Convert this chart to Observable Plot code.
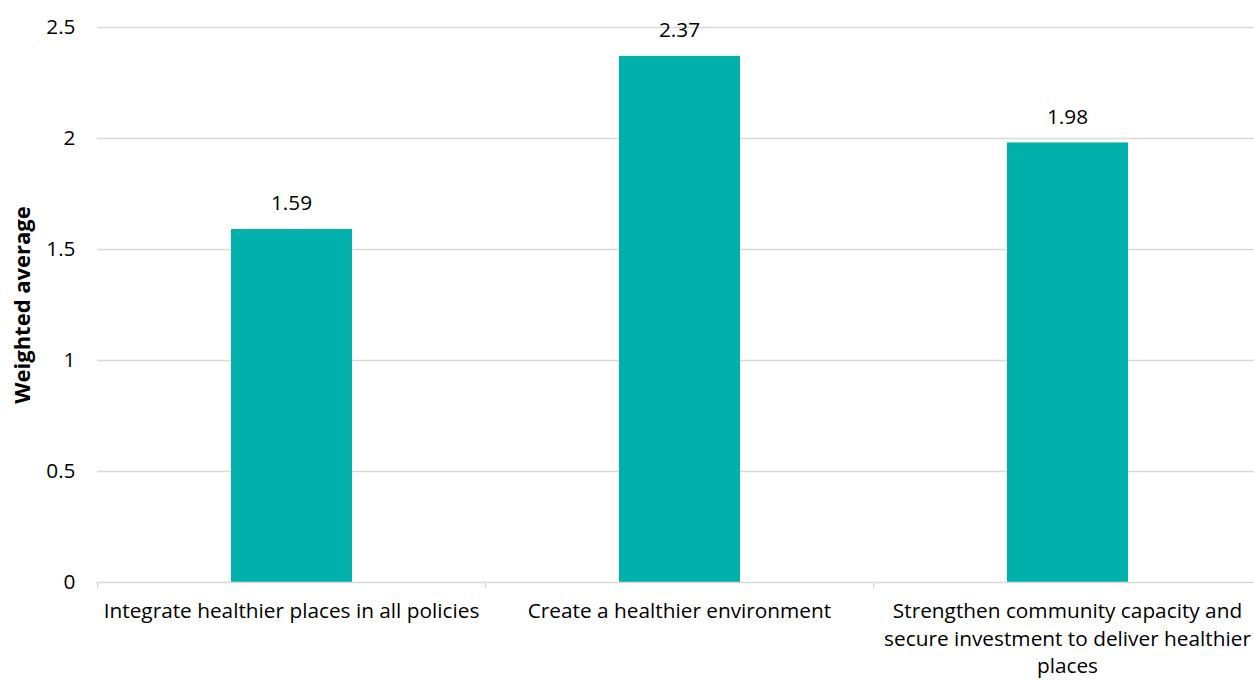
<!DOCTYPE html>
<html>
<head>
<meta charset="utf-8">
<script src="https://cdn.jsdelivr.net/npm/d3@7"></script>
<script src="https://cdn.jsdelivr.net/npm/@observablehq/plot@0.6"></script>
<style>
  html, body { margin: 0; padding: 0; background: #fff; }
  svg { display: block; }
</style>
</head>
<body>
<div id="chart"></div>
<script>
const categories = [
  "Integrate healthier places in all policies",
  "Create a healthier environment",
  "Strengthen community capacity and secure investment to deliver healthier places"
];
const tickLabels = [
  "Integrate healthier places in all policies",
  "Create a healthier environment",
  "Strengthen community capacity and\nsecure investment to deliver healthier\nplaces"
];
const values = [1.59, 2.37, 1.98];
const yTicks = [0, 0.5, 1, 1.5, 2, 2.5];
const yLabel = "Weighted average";

const data = categories.map((c, i) => ({category: c, value: values[i], label: values[i].toFixed(2)}));
const labelOf = new Map(categories.map((c, i) => [c, tickLabels[i]]));

const W = 1254, H = 681;
const font = "'Open Sans', sans-serif";
const fs = 20.8;
const step = 388;

const chart = Plot.plot({
  width: W,
  height: H,
  marginLeft: 97,
  marginRight: 0,
  marginTop: 27,
  marginBottom: 99,
  style: {fontFamily: font, fontSize: fs + "px", color: "#000", background: "#fff"},
  x: {type: "band", domain: categories, range: [97, 97 + 3 * step], padding: 0},
  y: {domain: [0, 2.5], range: [582, 27]},
  marks: [
    Plot.ruleY(yTicks.filter(t => t > 0), {stroke: "#d9d9d9", strokeWidth: 1.5, strokeOpacity: 1}),
    Plot.barY(data, {x: "category", y: "value", fill: "#00b0aa", insetLeft: 134, insetRight: 133}),
    Plot.ruleY([0], {stroke: "#d9d9d9", strokeWidth: 1.5, strokeOpacity: 1}),
    Plot.ruleX(categories, {x: d => d, dx: -step / 2, y1: 0, y2: 0, insetBottom: -6, stroke: "#d9d9d9", strokeWidth: 1.5, strokeOpacity: 1}),
    Plot.text(data, {x: "category", y: "value", text: "label", dy: -26, fill: "#000", fontSize: fs}),
    Plot.axisY({ticks: yTicks, tickSize: 0, tickPadding: 22, label: null, fontSize: fs, tickFormat: d => String(d)}),
    Plot.axisX({tickSize: 0, tickPadding: 16, label: null, fontSize: fs, lineHeight: 1.33, tickFormat: d => labelOf.get(d)}),
    Plot.text([yLabel], {frameAnchor: "left", textAnchor: "middle", dx: -75, rotate: -90, text: d => d, fontWeight: "bold", fontSize: 22, fill: "#000"})
  ]
});
document.getElementById("chart").appendChild(chart);
</script>
</body>
</html>
